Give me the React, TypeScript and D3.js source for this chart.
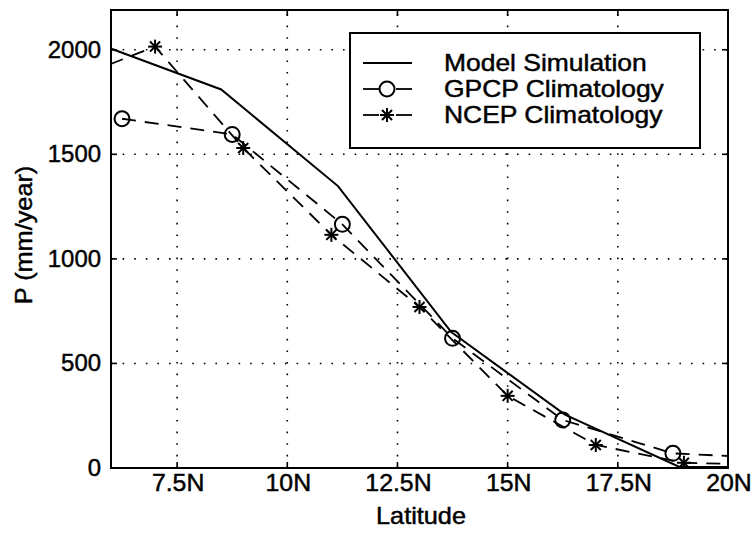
import React from "react";
import * as d3 from "d3";

const latTicks = [7.5, 10, 12.5, 15, 17.5, 20];
const latTickLabels = ["7.5N", "10N", "12.5N", "15N", "17.5N", "20N"];
const pTicks = [0, 500, 1000, 1500, 2000];
const pTickLabels = ["0", "500", "1000", "1500", "2000"];

const modelLat = [5.88, 8.5, 11.15, 13.72, 16.3, 18.9, 21.5];
const modelP = [2015, 1810, 1348, 650, 255, 5, 5];

const gpcpLat = [6.25, 8.75, 11.25, 13.75, 16.25, 18.75, 21.25];
const gpcpP = [1670, 1595, 1165, 620, 230, 70, 45];

const ncepLat = [5, 7, 9, 11, 13, 15, 17, 19, 21];
const ncepP = [1850, 2015, 1530, 1115, 770, 345, 110, 25, 15];

const legendLabels = ["Model Simulation", "GPCP Climatology", "NCEP Climatology"];

const W = 753, H = 538;
const L = 111, R = 728, T = 10, B = 468;
const FONT = "'Liberation Sans', Arial, Helvetica, sans-serif";

function Star({ x, y, s = 7 }: { x: number; y: number; s?: number }) {
  const d = s * 0.72;
  return (
    <g stroke="#000" strokeWidth={2}>
      <line x1={x - s} y1={y} x2={x + s} y2={y} />
      <line x1={x} y1={y - s} x2={x} y2={y + s} />
      <line x1={x - d} y1={y - d} x2={x + d} y2={y + d} />
      <line x1={x - d} y1={y + d} x2={x + d} y2={y - d} />
    </g>
  );
}

export default function App() {
  const x = d3.scaleLinear().domain([6, 20]).range([L, R]);
  const y = d3.scaleLinear().domain([0, 2190]).range([B, T]);
  const line = d3.line<[number, number]>().x((d) => x(d[0])).y((d) => y(d[1]));
  const model = modelLat.map((v, i) => [v, modelP[i]] as [number, number]);
  const gpcp = gpcpLat.map((v, i) => [v, gpcpP[i]] as [number, number]);
  const ncep = ncepLat.map((v, i) => [v, ncepP[i]] as [number, number]);
  const inX = (v: number) => v >= 6 && v <= 20;
  const dash = "14,9";
  const txt = { fontFamily: FONT, fontSize: 23, fill: "#000", stroke: "#000", strokeWidth: 0.45 } as const;

  const legY = [63, 89, 115];

  return (
    <svg width={W} height={H} style={{ position: "absolute", left: 0, top: 0, background: "#fff" }}>
      <rect x={0} y={0} width={W} height={H} fill="#fff" />
      <defs>
        <clipPath id="plotclip">
          <rect x={L} y={T} width={R - L} height={B - T} />
        </clipPath>
      </defs>
      {/* grid */}
      <g stroke="#000" strokeWidth={1.6} strokeDasharray="1.6,10" fill="none">
        {latTicks.filter((t) => t < 20).map((t) => (
          <line key={"gx" + t} x1={x(t)} x2={x(t)} y1={B} y2={T} />
        ))}
        {pTicks.filter((t) => t > 0).map((t) => (
          <line key={"gy" + t} x1={L} x2={R} y1={y(t)} y2={y(t)} />
        ))}
      </g>
      {/* ticks */}
      <g stroke="#000" strokeWidth={1.6}>
        {latTicks.map((t) => (
          <g key={"tx" + t}>
            <line x1={x(t)} x2={x(t)} y1={B} y2={B - 6} />
            <line x1={x(t)} x2={x(t)} y1={T} y2={T + 6} />
          </g>
        ))}
        {pTicks.map((t) => (
          <g key={"ty" + t}>
            <line x1={L} x2={L + 6} y1={y(t)} y2={y(t)} />
            <line x1={R} x2={R - 6} y1={y(t)} y2={y(t)} />
          </g>
        ))}
      </g>
      {/* data */}
      <g clipPath="url(#plotclip)" fill="none" stroke="#000">
        <path d={line(model) || ""} strokeWidth={2} />
        <path d={line(gpcp) || ""} strokeWidth={1.8} strokeDasharray={dash} />
        <path d={line(ncep) || ""} strokeWidth={1.8} strokeDasharray={dash} />
        {gpcp.filter((d) => inX(d[0])).map((d, i) => (
          <circle key={"c" + i} cx={x(d[0])} cy={y(d[1])} r={7.5} strokeWidth={2} fill="none" />
        ))}
        {ncep.filter((d) => inX(d[0])).map((d, i) => (
          <Star key={"s" + i} x={x(d[0])} y={y(d[1])} />
        ))}
      </g>
      {/* axes box */}
      <rect x={L} y={T} width={R - L} height={B - T} fill="none" stroke="#000" strokeWidth={2} />
      {/* tick labels */}
      {latTicks.map((t, i) => (
        <text key={"lx" + t} {...txt} textAnchor="middle" transform={`translate(${x(t) + 1},${491}) scale(1.08,1)`}>
          {latTickLabels[i]}
        </text>
      ))}
      {pTicks.map((t, i) => (
        <text key={"ly" + t} {...txt} textAnchor="end" transform={`translate(${101},${y(t) + 8}) scale(1.04,1)`}>
          {pTickLabels[i]}
        </text>
      ))}
      <text {...txt} textAnchor="middle" transform={`translate(${421},${524}) scale(1.1,1)`}>Latitude</text>
      <text {...txt} textAnchor="middle" transform={`translate(${32},${235}) rotate(-90) scale(1.1,1)`}>P (mm/year)</text>
      {/* legend */}
      <rect x={350} y={33} width={350} height={115} fill="#fff" stroke="#000" strokeWidth={2} />
      <line x1={363} x2={412} y1={legY[0]} y2={legY[0]} stroke="#000" strokeWidth={2} />
      <g stroke="#000" strokeWidth={1.8}>
        <line x1={363} x2={379} y1={legY[1]} y2={legY[1]} />
        <line x1={396} x2={412} y1={legY[1]} y2={legY[1]} />
        <line x1={363} x2={379} y1={legY[2]} y2={legY[2]} />
        <line x1={396} x2={412} y1={legY[2]} y2={legY[2]} />
      </g>
      <circle cx={387} cy={legY[1]} r={7.5} fill="none" stroke="#000" strokeWidth={2} />
      <Star x={387} y={legY[2]} />
      {legendLabels.map((s, i) => (
        <text key={s} {...txt} transform={`translate(${444},${legY[i] + 8}) scale(1.15,1)`}>{s}</text>
      ))}
    </svg>
  );
}
